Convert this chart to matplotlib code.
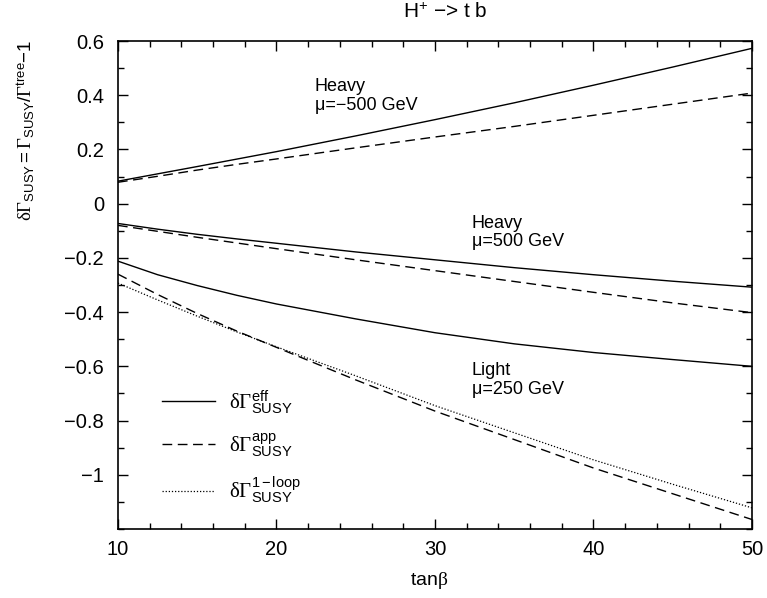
import numpy as np
import matplotlib
matplotlib.use("Agg")
import matplotlib.pyplot as plt

plt.rcParams['font.family'] = ['Liberation Sans', 'DejaVu Sans']
plt.rcParams['mathtext.fontset'] = 'custom'
plt.rcParams['mathtext.rm'] = 'Liberation Serif'
plt.rcParams['mathtext.sf'] = 'Liberation Sans'
plt.rcParams['mathtext.it'] = 'Liberation Serif:italic'

# tan(beta) grid
tanb = [10, 12.5, 15, 17.5, 20, 25, 30, 35, 40, 45, 50]

# Heavy, mu = -500 GeV
heavy_neg_eff = [0.083, 0.11, 0.137, 0.1645, 0.192, 0.25, 0.31, 0.372, 0.437, 0.504, 0.573]
heavy_neg_app = [0.079, 0.101, 0.124, 0.145, 0.165, 0.206, 0.246, 0.285, 0.326, 0.367, 0.408]

# Heavy, mu = 500 GeV
heavy_pos_eff = [-0.073, -0.094, -0.113, -0.13, -0.146, -0.178, -0.207, -0.236, -0.262, -0.286, -0.308]
heavy_pos_app = [-0.08, -0.102, -0.124, -0.145, -0.166, -0.207, -0.247, -0.287, -0.327, -0.366, -0.402]

# Light, mu = 250 GeV
light_eff = [-0.212, -0.262, -0.302, -0.338, -0.37, -0.425, -0.476, -0.517, -0.549, -0.575, -0.60]
light_app = [-0.26, -0.335, -0.405, -0.47, -0.53, -0.65, -0.765, -0.87, -0.975, -1.07, -1.165]
light_1loop = [-0.293, -0.355, -0.415, -0.473, -0.528, -0.635, -0.745, -0.845, -0.945, -1.035, -1.122]

fig = plt.figure(figsize=(7.67, 5.98), dpi=100)
ax = fig.add_axes([0.1538, 0.1154, 0.8266, 0.816])

lw = 1.0
dash = (0, (7, 4))
dot = (0, (1, 1.5))

l1, = ax.plot(tanb, heavy_neg_eff, color='black', lw=lw)
l2, = ax.plot(tanb, heavy_neg_app, color='black', lw=lw, linestyle=dash)
ax.plot(tanb, heavy_pos_eff, color='black', lw=lw)
ax.plot(tanb, heavy_pos_app, color='black', lw=lw, linestyle=dash)
ax.plot(tanb, light_eff, color='black', lw=lw)
ax.plot(tanb, light_app, color='black', lw=lw, linestyle=dash)
l3, = ax.plot(tanb, light_1loop, color='black', lw=0.9, linestyle=dot)

ax.set_xlim(10, 50)
ax.set_ylim(-1.2, 0.6)
ax.set_xticks([10, 20, 30, 40, 50])
ax.set_xticks(np.arange(10, 51, 2), minor=True)
ax.set_yticks([-1, -0.8, -0.6, -0.4, -0.2, 0, 0.2, 0.4, 0.6])
ax.set_yticklabels(['\u22121', '\u22120.8', '\u22120.6', '\u22120.4', '\u22120.2', '0', '0.2', '0.4', '0.6'])
ax.set_yticks(np.arange(-1.2, 0.61, 0.1), minor=True)
ax.tick_params(which='both', direction='in', top=True, right=True, labelsize=14.5, width=1)
ax.tick_params(which='major', length=7)
ax.tick_params(axis='y', which='major', pad=10)
ax.tick_params(axis='x', which='major', pad=8)
ax.tick_params(which='minor', length=4)
for s in ax.spines.values():
    s.set_linewidth(1.2)

fig.text(0.581, 0.98, 'H$^{\\mathsf{+}}$ \u2212> t b', fontsize=15, ha='center', va='center')
ax.set_xlabel(r'tan$\mathrm{\beta}$', fontsize=14)
ax.xaxis.set_label_coords(0.49, -0.084)
ax.set_ylabel(r'$\mathrm{\delta\Gamma}_{\mathsf{SUSY}}\mathsf{=}\mathrm{\Gamma}_{\mathsf{SUSY}}'
              r'\mathsf{/}\mathrm{\Gamma}^{\mathsf{tree}}\mathsf{-1}$', fontsize=13.5)
ax.yaxis.set_label_coords(-0.128, 0.816)

ax.text(22.43, 0.431, 'Heavy', fontsize=13, va='center')
ax.text(22.43, 0.361, '\u03bc=\u2212500 GeV', fontsize=13, va='center')
ax.text(32.33, -0.073, 'Heavy', fontsize=13, va='center')
ax.text(32.33, -0.139, '\u03bc=500 GeV', fontsize=13, va='center')
ax.text(32.33, -0.617, 'Light', fontsize=13, va='center')
ax.text(32.33, -0.687, '\u03bc=250 GeV', fontsize=13, va='center')

ax.legend([l1, l2, l3],
          [r'$\mathrm{\delta\Gamma}_{\mathsf{SUSY}}^{\mathsf{eff}}$',
           r'$\mathrm{\delta\Gamma}_{\mathsf{SUSY}}^{\mathsf{app}}$',
           r'$\mathrm{\delta\Gamma}_{\mathsf{SUSY}}^{\mathsf{1-loop}}$'],
          loc='lower left', bbox_to_anchor=(0.04, 0.01), frameon=False,
          fontsize=15, handlelength=2.55, handletextpad=0.65, labelspacing=0.75)

fig.savefig('out.png', dpi=100)
